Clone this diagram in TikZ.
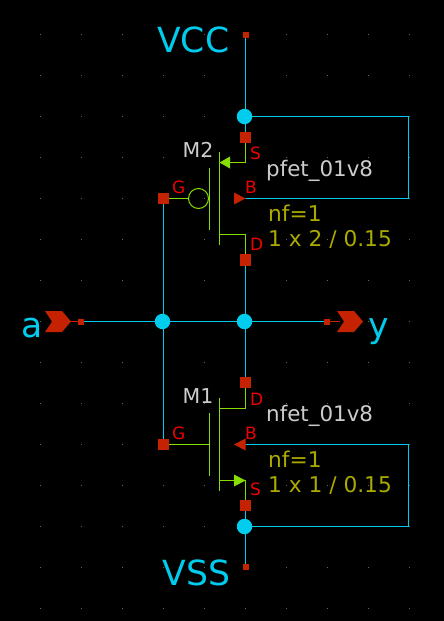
\documentclass[tikz,border=0pt]{standalone}
\usepackage{fontspec}
\setmainfont{DejaVu Sans}
\definecolor{wirec}{HTML}{00CCEE}
\definecolor{pinc}{HTML}{C42200}
\definecolor{devc}{HTML}{88DD00}
\definecolor{txtg}{HTML}{CCCCCC}
\definecolor{txty}{HTML}{AAAA00}
\definecolor{txtr}{HTML}{EE0000}
\definecolor{griddot}{HTML}{666666}
\pgfdeclarelayer{bgl}
\pgfdeclarelayer{wirel}
\pgfsetlayers{bgl,wirel,main}
\tikzset{
  pinbig/.style={fill=pinc,minimum size=11.5pt,inner sep=0pt,outer sep=0pt},
  pinsmall/.style={fill=pinc,minimum size=6pt,inner sep=0pt,outer sep=0pt},
  junction/.style={circle,fill=wirec,minimum size=15.5pt,inner sep=0pt,outer sep=0pt},
  wire/.style={draw=wirec,line width=1pt},
  portwire/.style={draw=pinc,line width=1pt},
  dev/.style={draw=devc,line width=1pt},
  bubble/.style={circle,draw=devc,line width=1pt,minimum size=20pt,inner sep=0pt,outer sep=0pt},
  bigtxt/.style={text=wirec,anchor=base west,inner sep=0pt,font=\fontsize{34.6}{36}\selectfont},
  mname/.style={text=txtg,anchor=base west,inner sep=0pt,font=\fontsize{20.5}{22}\selectfont},
  lbl/.style={text=txtg,anchor=base west,inner sep=0pt,font=\fontsize{21.4}{22}\selectfont},
  parm/.style={text=txty,anchor=base west,inner sep=0pt,font=\fontsize{21.7}{22}\selectfont},
  pintxt/.style={text=txtr,anchor=base west,inner sep=0pt,font=\fontsize{17}{18}\selectfont},
  tipgreen/.style={fill=devc},
  tipred/.style={fill=pinc},
}
\begin{document}
\begin{tikzpicture}[x=1pt,y=-1pt]
\useasboundingbox (0,0) rectangle (444,621);
\begin{pgfonlayer}{bgl}
\fill[black] (0,0) rectangle (444,621);
\foreach \i in {0,...,9}{\foreach \j in {0,...,14}{
  \fill[griddot] ({40+41*\i},{34+41*\j}) rectangle ++(1,1);
}}
\end{pgfonlayer}
% terminals
\node[pinsmall] (vcc) at (245.5,34.5) {};
\node[pinsmall] (vss) at (245.5,566.5) {};
\node[pinsmall] (pa) at (81,321.5) {};
\node[pinsmall] (py) at (327,321.5) {};
% junctions
\node[junction] (jt) at (244.5,116.5) {};
\node[junction] (jb) at (244.5,526.5) {};
\node[junction] (jy) at (244.5,321.5) {};
\node[junction] (ja) at (162.5,321.5) {};
% device pins
\node[pinbig] (m2s) at (245.5,137.5) {};
\node[pinbig] (m2d) at (245.5,260) {};
\node[pinbig] (m2g) at (163.5,198.5) {};
\node[pinbig] (m1d) at (245.5,382.5) {};
\node[pinbig] (m1s) at (245.5,505.5) {};
\node[pinbig] (m1g) at (163.5,444.5) {};
% helper points
\coordinate (m2bt) at (245.5,198.5);
\coordinate (m1bt) at (245.5,444.5);
\coordinate (tr) at (408.5,116.5);
\coordinate (br) at (408.5,198.5);
\coordinate (tr1) at (408.5,444.5);
\coordinate (br1) at (408.5,526.5);
\coordinate (m2sc) at (219.5,162.5);
\coordinate (m2sk) at (245.5,162.5);
\coordinate (m2dc) at (219.5,234.5);
\coordinate (m2dk) at (245.5,234.5);
\coordinate (m1dc) at (219.5,408.5);
\coordinate (m1dk) at (245.5,408.5);
\coordinate (m1sc) at (219.5,480.5);
\coordinate (m1sk) at (245.5,480.5);
\coordinate (m1gb) at (209.5,444.5);
\node[bubble] (bub) at (198.5,198.5) {};
\begin{pgfonlayer}{wirel}
\draw[wire] (vcc.center) -- (m2s.center);
\draw[wire] (jt.center) -- (tr) -- (br) -- (m2bt);
\draw[wire] (m2d.center) -- (m1d.center);
\draw[wire] (m2g.center) -- (m1g.center);
\draw[wire] (pa.center) -- (py.center);
\draw[wire] (m1bt) -- (tr1) -- (br1) -- (jb.center);
\draw[wire] (m1s.center) -- (vss.center);
\end{pgfonlayer}
% M2 symbol
\draw[dev] (209.5,168) -- (209.5,230);
\draw[dev] (219.5,152) -- (219.5,245);
\draw[dev] (m2s.south -| m2sk) -- (m2sk) -- (m2sc);
\draw[dev] (m2dc) -- (m2dk) -- (m2d.north -| m2dk);
\draw[dev] (m2g.east) -- (bub.west);
\fill[tipgreen] (219.5,162.5) -- (230,156.5) -- (230,168.5) -- cycle;
\fill[tipred] (245.5,198.5) -- (234,192.5) -- (234,204.5) -- cycle;
% M1 symbol
\draw[dev] (209.5,413) -- (209.5,476);
\draw[dev] (219.5,398) -- (219.5,490.5);
\draw[dev] (m1d.south -| m1dk) -- (m1dk) -- (m1dc);
\draw[dev] (m1g.east) -- (m1gb);
\draw[dev] (m1sc) -- (m1sk) -- (m1s.north -| m1sk);
\fill[tipgreen] (245.5,480.5) -- (234,474.5) -- (234,486.5) -- cycle;
\fill[tipred] (234,444.5) -- (245.5,438.5) -- (245.5,450.5) -- cycle;
% ports
\fill[pinc] (45,311) -- (62,311) -- (71,321.5) -- (62,332) -- (45,332) -- (52,321.5) -- cycle;
\fill[pinc] (337,311) -- (354,311) -- (363,321.5) -- (354,332) -- (337,332) -- (344,321.5) -- cycle;
\coordinate (atip) at (71,321.5);
\coordinate (ytail) at (340,321.5);
\draw[portwire] (atip) -- (pa.center);
\draw[portwire] (py.center) -- (ytail);
% texts
\node[bigtxt] (tvcc) at (157,52) {VCC};
\node[bigtxt] (tvss) at (162.5,585) {VSS};
\node[bigtxt] (ta) at (21,337) {a};
\node[bigtxt] (ty) at (368,337) {y};
\node[mname] (tm2) at (182.5,157) {M2};
\node[mname] (tm1) at (182.5,403) {M1};
\node[lbl] (tp) at (266,176) {pfet\_01v8};
\node[lbl] (tn) at (266,421) {nfet\_01v8};
\node[parm] (tnf2) at (268,221.5) {nf=1};
\node[parm] (tsz2) at (268,246.5) {1 x 2 / 0.15};
\node[parm] (tnf1) at (268,467.5) {nf=1};
\node[parm] (tsz1) at (268,492.5) {1 x 1 / 0.15};
\node[pintxt] (s2) at (250,159) {S};
\node[pintxt] (g2) at (172,193) {G};
\node[pintxt] (b2) at (245,193) {B};
\node[pintxt] (d2) at (250,250) {D};
\node[pintxt] (d1) at (250,405) {D};
\node[pintxt] (g1) at (172,439) {G};
\node[pintxt] (b1) at (245,439) {B};
\node[pintxt] (s1) at (250,495) {S};
\end{tikzpicture}
\end{document}
